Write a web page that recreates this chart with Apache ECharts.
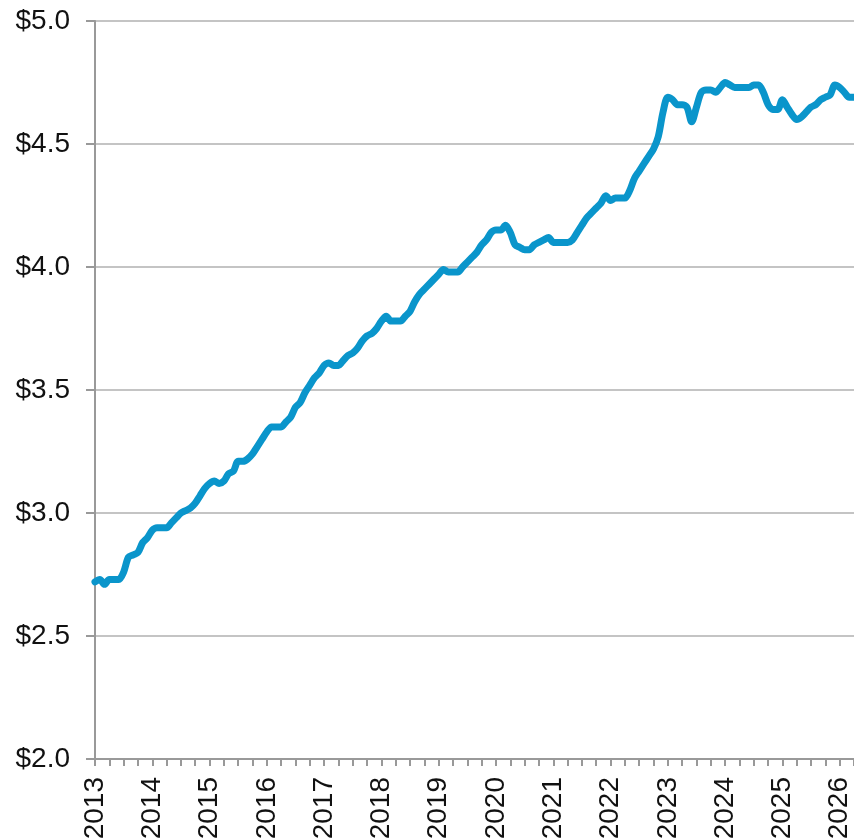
<!DOCTYPE html>
<html>
<head>
<meta charset="utf-8">
<script src="https://cdn.jsdelivr.net/npm/echarts@6/dist/echarts.min.js"></script>
<style>
  html, body { margin: 0; padding: 0; background: #fff; }
  #chart { width: 854px; height: 839px; }
</style>
</head>
<body>
<div id="chart"></div>
<script>
// monthly series, Jan 2013 .. Apr 2026
var startYear = 2013;
var monthCount = 160;
var yTicks = [2.0, 2.5, 3.0, 3.5, 4.0, 4.5, 5.0];

var prices = [
  2.72, 2.73, 2.71, 2.73, 2.73, 2.73, 2.76, 2.82, 2.83, 2.84, 2.88, 2.90,
  2.93, 2.94, 2.94, 2.94, 2.96, 2.98, 3.00, 3.01, 3.02, 3.04, 3.07, 3.10,
  3.12, 3.13, 3.12, 3.13, 3.16, 3.17, 3.21, 3.21, 3.22, 3.24, 3.27, 3.30,
  3.33, 3.35, 3.35, 3.35, 3.37, 3.39, 3.43, 3.45, 3.49, 3.52, 3.55, 3.57,
  3.60, 3.61, 3.60, 3.60, 3.62, 3.64, 3.65, 3.67, 3.70, 3.72, 3.73, 3.75,
  3.78, 3.80, 3.78, 3.78, 3.78, 3.80, 3.82, 3.86, 3.89, 3.91, 3.93, 3.95,
  3.97, 3.99, 3.98, 3.98, 3.98, 4.00, 4.02, 4.04, 4.06, 4.09, 4.11, 4.14,
  4.15, 4.15, 4.17, 4.14, 4.09, 4.08, 4.07, 4.07, 4.09, 4.10, 4.11, 4.12,
  4.10, 4.10, 4.10, 4.10, 4.11, 4.14, 4.17, 4.20, 4.22, 4.24, 4.26, 4.29,
  4.27, 4.28, 4.28, 4.28, 4.31, 4.36, 4.39, 4.42, 4.45, 4.48, 4.53, 4.63,
  4.69, 4.68, 4.66, 4.66, 4.65, 4.59, 4.65, 4.71, 4.72, 4.72, 4.71, 4.73,
  4.75, 4.74, 4.73, 4.73, 4.73, 4.73, 4.74, 4.74, 4.71, 4.66, 4.64, 4.64,
  4.68, 4.65, 4.62, 4.60, 4.61, 4.63, 4.65, 4.66, 4.68, 4.69, 4.70, 4.74,
  4.73, 4.71, 4.69, 4.69
];

var months = [];
for (var i = 0; i < monthCount; i++) {
  var yr = startYear + Math.floor(i / 12);
  var mo = (i % 12) + 1;
  months.push(yr + '-' + (mo < 10 ? '0' + mo : mo));
}

var chart = echarts.init(document.getElementById('chart'));
chart.setOption({
  animation: false,
  backgroundColor: '#fff',
  grid: {
    left: 95,
    right: 0,
    top: 21,
    bottom: 80,
    outerBoundsMode: 'none'
  },
  xAxis: {
    type: 'category',
    boundaryGap: false,
    data: months,
    axisLine: { lineStyle: { color: '#999', width: 2 } },
    axisTick: {
      interval: 2,
      length: 7,
      lineStyle: { color: '#999', width: 2 }
    },
    axisLabel: {
      interval: function (idx) { return idx % 12 === 0; },
      rotate: 90,
      margin: 18,
      fontFamily: 'Liberation Sans',
      fontSize: 28,
      color: '#111',
      formatter: function (v) { return v.slice(0, 4); }
    },
    splitLine: { show: false }
  },
  yAxis: {
    type: 'value',
    min: yTicks[0],
    max: yTicks[yTicks.length - 1],
    interval: 0.5,
    axisLine: { show: true, lineStyle: { color: '#999', width: 2 } },
    axisTick: { show: true, length: 9, lineStyle: { color: '#999', width: 2 } },
    axisLabel: {
      margin: 25,
      fontFamily: 'Liberation Sans',
      fontSize: 28,
      color: '#111',
      formatter: function (v) { return '$' + v.toFixed(1); }
    },
    splitLine: { lineStyle: { color: '#c4c4c4', width: 2 } }
  },
  series: [{
    type: 'line',
    data: prices,
    symbol: 'none',
    smooth: 0.3,
    lineStyle: { color: '#0a95cb', width: 7, join: 'round', cap: 'round' }
  }]
});
</script>
</body>
</html>
